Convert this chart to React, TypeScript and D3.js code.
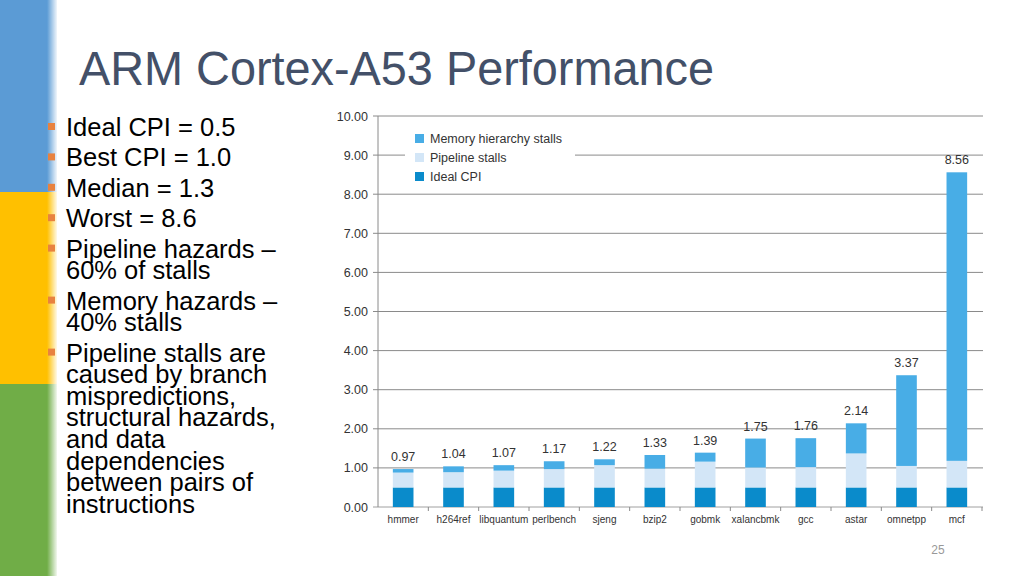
import React from "react";
import * as d3 from "d3";

const categories = ["hmmer", "h264ref", "libquantum", "perlbench", "sjeng", "bzip2", "gobmk", "xalancbmk", "gcc", "astar", "omnetpp", "mcf"];
const idealCPI = [0.5, 0.5, 0.5, 0.5, 0.5, 0.5, 0.5, 0.5, 0.5, 0.5, 0.5, 0.5];
const pipelineStalls = [0.38, 0.39, 0.43, 0.47, 0.57, 0.48, 0.66, 0.51, 0.52, 0.87, 0.55, 0.68];
const memoryStalls = [0.09, 0.15, 0.14, 0.20, 0.15, 0.35, 0.23, 0.74, 0.74, 0.77, 2.32, 7.38];
const totals = [0.97, 1.04, 1.07, 1.17, 1.22, 1.33, 1.39, 1.75, 1.76, 2.14, 3.37, 8.56];
const yTicks = [0, 1, 2, 3, 4, 5, 6, 7, 8, 9, 10];
const seriesNames = ["Ideal CPI", "Pipeline stalls", "Memory hierarchy stalls"];
const seriesColors = ["#0a8bcb", "#d3e6f7", "#48ade6"];

const bullets: string[][] = [
  ["Ideal CPI = 0.5"],
  ["Best CPI = 1.0"],
  ["Median = 1.3"],
  ["Worst = 8.6"],
  ["Pipeline hazards –", "60% of stalls"],
  ["Memory hazards –", "40% stalls"],
  ["Pipeline stalls are", "caused by branch", "mispredictions,", "structural hazards,", "and data", "dependencies", "between pairs of", "instructions"],
];

export default function App() {
  const W = 1024, H = 576;
  const x = d3.scaleBand<string>().domain(categories).range([378, 982]).paddingInner(0.59).paddingOuter(0.295);
  const y = d3.scaleLinear().domain([0, 10]).range([507, 116]);
  const rows = categories.map((c, i) => ({ cat: c, ideal: idealCPI[i], pipe: pipelineStalls[i], mem: memoryStalls[i] }));
  const stack = d3.stack<any>().keys(["ideal", "pipe", "mem"])(rows);
  const bandStep = x.step();
  const font = "'Liberation Sans', Arial, sans-serif";

  // bullet layout
  let yPos = 136;
  const bulletEls: React.ReactNode[] = [];
  bullets.forEach((lines, bi) => {
    bulletEls.push(<rect key={"b" + bi} x={48} y={yPos - 13} width={7} height={7} fill="#e8823f" />);
    lines.forEach((ln, li) => {
      bulletEls.push(
        <text key={`t${bi}-${li}`} x={66} y={yPos} fontSize={25.5} fontFamily={font} fill="#000">{ln}</text>
      );
      yPos += li < lines.length - 1 ? 21.6 : 30.4;
    });
  });

  return (
    <svg width={W} height={H} style={{ position: "absolute", left: 0, top: 0 }}>
      <defs>
        <linearGradient id="fade" x1="0" x2="1" y1="0" y2="0">
          <stop offset="0" stopColor="#fff" stopOpacity={0} />
          <stop offset="1" stopColor="#fff" stopOpacity={1} />
        </linearGradient>
      </defs>
      <rect width={W} height={H} fill="#fff" />
      <rect x={0} y={0} width={58} height={192} fill="#5b9bd5" />
      <rect x={0} y={192} width={58} height={192} fill="#ffc000" />
      <rect x={0} y={384} width={58} height={192} fill="#70ad47" />
      <rect x={47} y={0} width={11} height={H} fill="url(#fade)" />
      <rect x={57} y={0} width={2} height={H} fill="#fff" />

      <text x={79} y={85} fontSize={49} fontFamily={font} fill="#435068" textLength={635} lengthAdjust="spacingAndGlyphs">ARM Cortex-A53 Performance</text>

      {bulletEls}

      {/* gridlines */}
      {yTicks.map(t => (
        <g key={t}>
          <line x1={373} x2={983} y1={y(t)} y2={y(t)} stroke={t === 0 ? "#a0a0a0" : "#8a8a8a"} strokeWidth={1} />
          <text x={368} y={y(t) + 4.5} textAnchor="end" fontSize={12.5} fontFamily={font} fill="#333">{t.toFixed(2)}</text>
        </g>
      ))}
      <line x1={378} x2={378} y1={116} y2={507} stroke="#8a8a8a" />
      {categories.map((c, i) => (
        <line key={c} x1={378 + bandStep * (i + 1)} x2={378 + bandStep * (i + 1)} y1={507} y2={511} stroke="#8a8a8a" />
      ))}

      {/* legend */}
      <rect x={405} y={128} width={170} height={57} fill="#fff" />
      {[2, 1, 0].map((si, k) => (
        <g key={si}>
          <rect x={415} y={134 + k * 19} width={9} height={9} fill={seriesColors[si]} />
          <text x={430} y={143 + k * 19} fontSize={12.5} fontFamily={font} fill="#333">{seriesNames[si]}</text>
        </g>
      ))}

      {/* bars */}
      {stack.map((s, si) => (
        <g key={si} fill={seriesColors[si]}>
          {s.map((d, i) => (
            <rect key={i} x={x(categories[i])} y={y(d[1])} width={x.bandwidth()} height={y(d[0]) - y(d[1])} />
          ))}
        </g>
      ))}
      {categories.map((c, i) => (
        <text key={c} x={(x(c) as number) + x.bandwidth() / 2} y={y(totals[i]) - 8} textAnchor="middle" fontSize={12.5} fontFamily={font} fill="#333">{totals[i].toFixed(2)}</text>
      ))}
      {categories.map(c => (
        <text key={"l" + c} x={(x(c) as number) + x.bandwidth() / 2} y={523} textAnchor="middle" fontSize={10} fontFamily={font} fill="#333">{c}</text>
      ))}

      <text x={938} y={554} textAnchor="middle" fontSize={12} fontFamily={font} fill="#999">25</text>
    </svg>
  );
}
